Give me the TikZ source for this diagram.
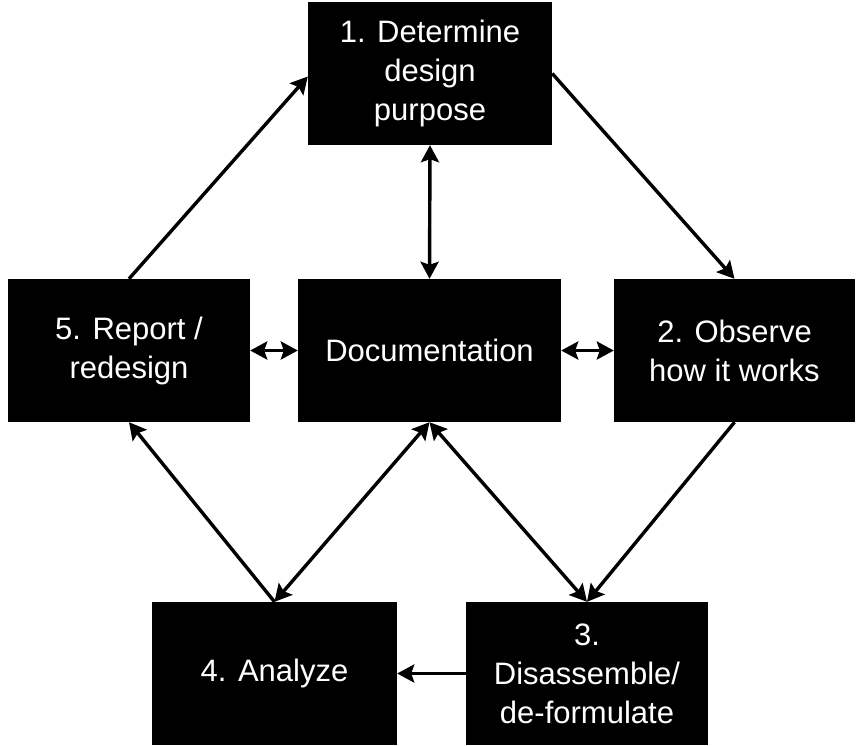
\documentclass[tikz,border=0pt]{standalone}
\usepackage{fontspec}
\setmainfont{Liberation Sans}
\usetikzlibrary{arrows.meta,calc}
\begin{document}
\begin{tikzpicture}[x=1pt,y=-1pt,
  stepbox/.style={fill=black,draw=none,text=white,align=center,
    inner sep=0pt,font=\fontsize{31}{39}\selectfont},
  tip/.style={},
  link/.style={line width=3.4pt,-{Stealth[length=17pt,width=18pt,inset=3pt]}},
  biglink/.style={line width=3.4pt,{Stealth[length=17pt,width=18pt,inset=3pt]}-{Stealth[length=17pt,width=18pt,inset=3pt]}}]
\useasboundingbox (0,0) rectangle (858,745);
% process steps
\node[stepbox,minimum width=244pt,minimum height=143pt] (b1) at (430,73.5) {1. Determine\\design\\purpose};
\node[stepbox,minimum width=263pt,minimum height=143pt] (doc) at (429.5,350.5) {Documentation};
\node[stepbox,minimum width=242pt,minimum height=143pt] (b5) at (129,350.5) {5. Report /\\redesign};
\node[stepbox,minimum width=241pt,minimum height=143pt] (b2) at (734.5,350.5) {2. Observe\\how it works};
\node[stepbox,minimum width=245pt,minimum height=143pt] (b4) at (274.5,673.5) {4. Analyze};
\node[stepbox,minimum width=242pt,minimum height=143pt] (b3) at (587,673.5) {3.\\Disassemble/\\de-formulate};
% cycle
\draw[link] (b5.north) -- ($(b1.west)+(0,3)$);
\draw[link] (b1.east) -- (b2.north);
\draw[link] (b2.south) -- (b3.north);
\draw[link] (b3.west) -- (b4.east);
\draw[link] (b4.north) -- (b5.south);
% links to documentation
\draw[biglink] (b1.south) -- (doc.north);
\draw[biglink] (b5.east) -- (doc.west);
\draw[biglink] (doc.east) -- (b2.west);
\draw[biglink] (doc.south) -- (b4.north);
\draw[biglink] (doc.south) -- (b3.north);
\end{tikzpicture}
\end{document}
